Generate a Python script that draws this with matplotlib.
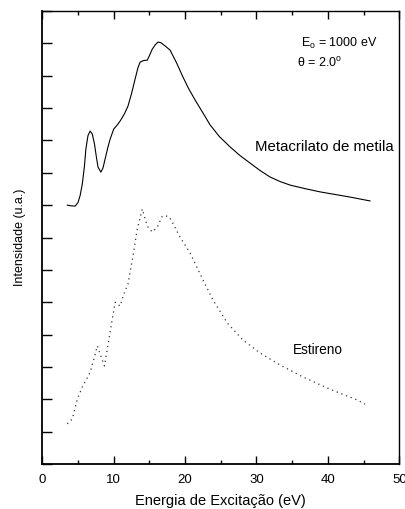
import matplotlib
matplotlib.use("Agg")
import matplotlib.pyplot as plt
from matplotlib.ticker import MultipleLocator

plt.rcParams['font.family'] = ['Liberation Sans', 'DejaVu Sans']

# Metacrilato de metila (solid)
meta_x = [3.5, 4.0, 4.6, 5.0, 5.3, 5.6, 5.9, 6.1, 6.4, 6.7, 7.0, 7.3, 7.6, 7.8, 8.2,
          8.5, 8.8, 9.2, 9.5, 10.0, 10.5, 10.9, 11.5, 12.0, 12.5, 13.0, 13.4, 13.7,
          14.2, 14.7, 15.0, 15.4, 15.8, 16.2, 16.6, 17.2, 17.9, 18.8, 19.7,
          20.5, 21.4, 22.5, 23.5, 24.8, 26.3, 27.7, 29.1, 30.5, 31.9, 33.3, 34.7,
          36.8, 38.9, 41.0, 43.1, 45.9]
meta_y = [8.00, 7.98, 7.97, 8.08, 8.30, 8.65, 9.20, 9.73, 10.15, 10.29, 10.20, 9.90,
          9.45, 9.18, 9.02, 9.15, 9.43, 9.80, 10.04, 10.35, 10.48, 10.60, 10.82,
          11.06, 11.45, 11.90, 12.25, 12.42, 12.47, 12.48, 12.62, 12.82, 12.95,
          13.04, 13.02, 12.92, 12.79, 12.40, 11.96, 11.60, 11.25, 10.85, 10.48,
          10.12, 9.80, 9.53, 9.30, 9.07, 8.87, 8.73, 8.62, 8.51, 8.41, 8.33, 8.25,
          8.13]

# Estireno (dotted)
est_x = [3.5, 4.2, 4.9, 5.6, 6.2, 6.7, 7.3, 7.7, 8.1, 8.7, 9.1, 9.5, 10.2, 10.9,
         11.4, 12.0, 12.7, 13.3, 14.0, 14.7, 15.4, 16.1, 16.8, 17.5, 17.9, 19.3,
         20.7, 22.5, 23.9, 25.9, 28.1, 30.5, 33.3, 36.5, 39.9, 42.0, 44.1, 45.2]
est_y = [1.24, 1.39, 2.00, 2.38, 2.62, 2.84, 3.30, 3.65, 3.40, 3.03, 3.55, 4.08,
         5.00, 4.88, 5.25, 5.56, 6.43, 7.26, 7.88, 7.35, 7.17, 7.32, 7.66, 7.66,
         7.60, 7.01, 6.52, 5.69, 5.07, 4.36, 3.83, 3.43, 3.06, 2.69, 2.35, 2.16,
         1.98, 1.85]

x_ticks = [0, 10, 20, 30, 40, 50]

fig = plt.figure(figsize=(4.06, 5.09), dpi=100)
ax = fig.add_axes([42.3 / 406, (509 - 464) / 509, (399.3 - 42.3) / 406, (464 - 11) / 509])

ax.plot(meta_x, meta_y, color='black', lw=0.8)
ax.plot(est_x, est_y, color='#333333', lw=0.9, linestyle=(0, (1, 3)))

ax.set_xlim(0, 50)
ax.set_ylim(0, 14)
ax.set_xticks(x_ticks)
ax.xaxis.set_minor_locator(MultipleLocator(5))
ax.yaxis.set_major_locator(MultipleLocator(1))
ax.set_yticklabels([])
ax.tick_params(axis='both', which='major', direction='in', top=True, right=False,
               length=6, width=1.0, labelsize=9.5, pad=7)
ax.tick_params(axis='x', which='minor', direction='in', top=True, length=3, width=1.0)
ax.tick_params(axis='y', which='major', length=7)
for s in ax.spines.values():
    s.set_linewidth(1.0)
ax.spines['left'].set_linewidth(1.3)
ax.spines['bottom'].set_linewidth(1.3)

ax.set_xlabel('Energia de Excitação (eV)', fontsize=10.5, labelpad=6)
ax.set_ylabel('Intensidade (u.a.)', fontsize=9, labelpad=5)

ax.text(0.725, 0.928, r'E$_\mathregular{o}$ = 1000 eV', transform=ax.transAxes, fontsize=9,
        ha='left', va='center')
ax.text(0.713, 0.886, r'θ = 2.0$^\mathregular{o}$', transform=ax.transAxes, fontsize=9,
        ha='left', va='center')
ax.text(0.985, 0.70, 'Metacrilato de metila', transform=ax.transAxes, fontsize=10.8,
        ha='right', va='center')
ax.text(0.773, 0.252, 'Estireno', transform=ax.transAxes, fontsize=9.8,
        ha='center', va='center')

fig.savefig('out.png', dpi=100)
